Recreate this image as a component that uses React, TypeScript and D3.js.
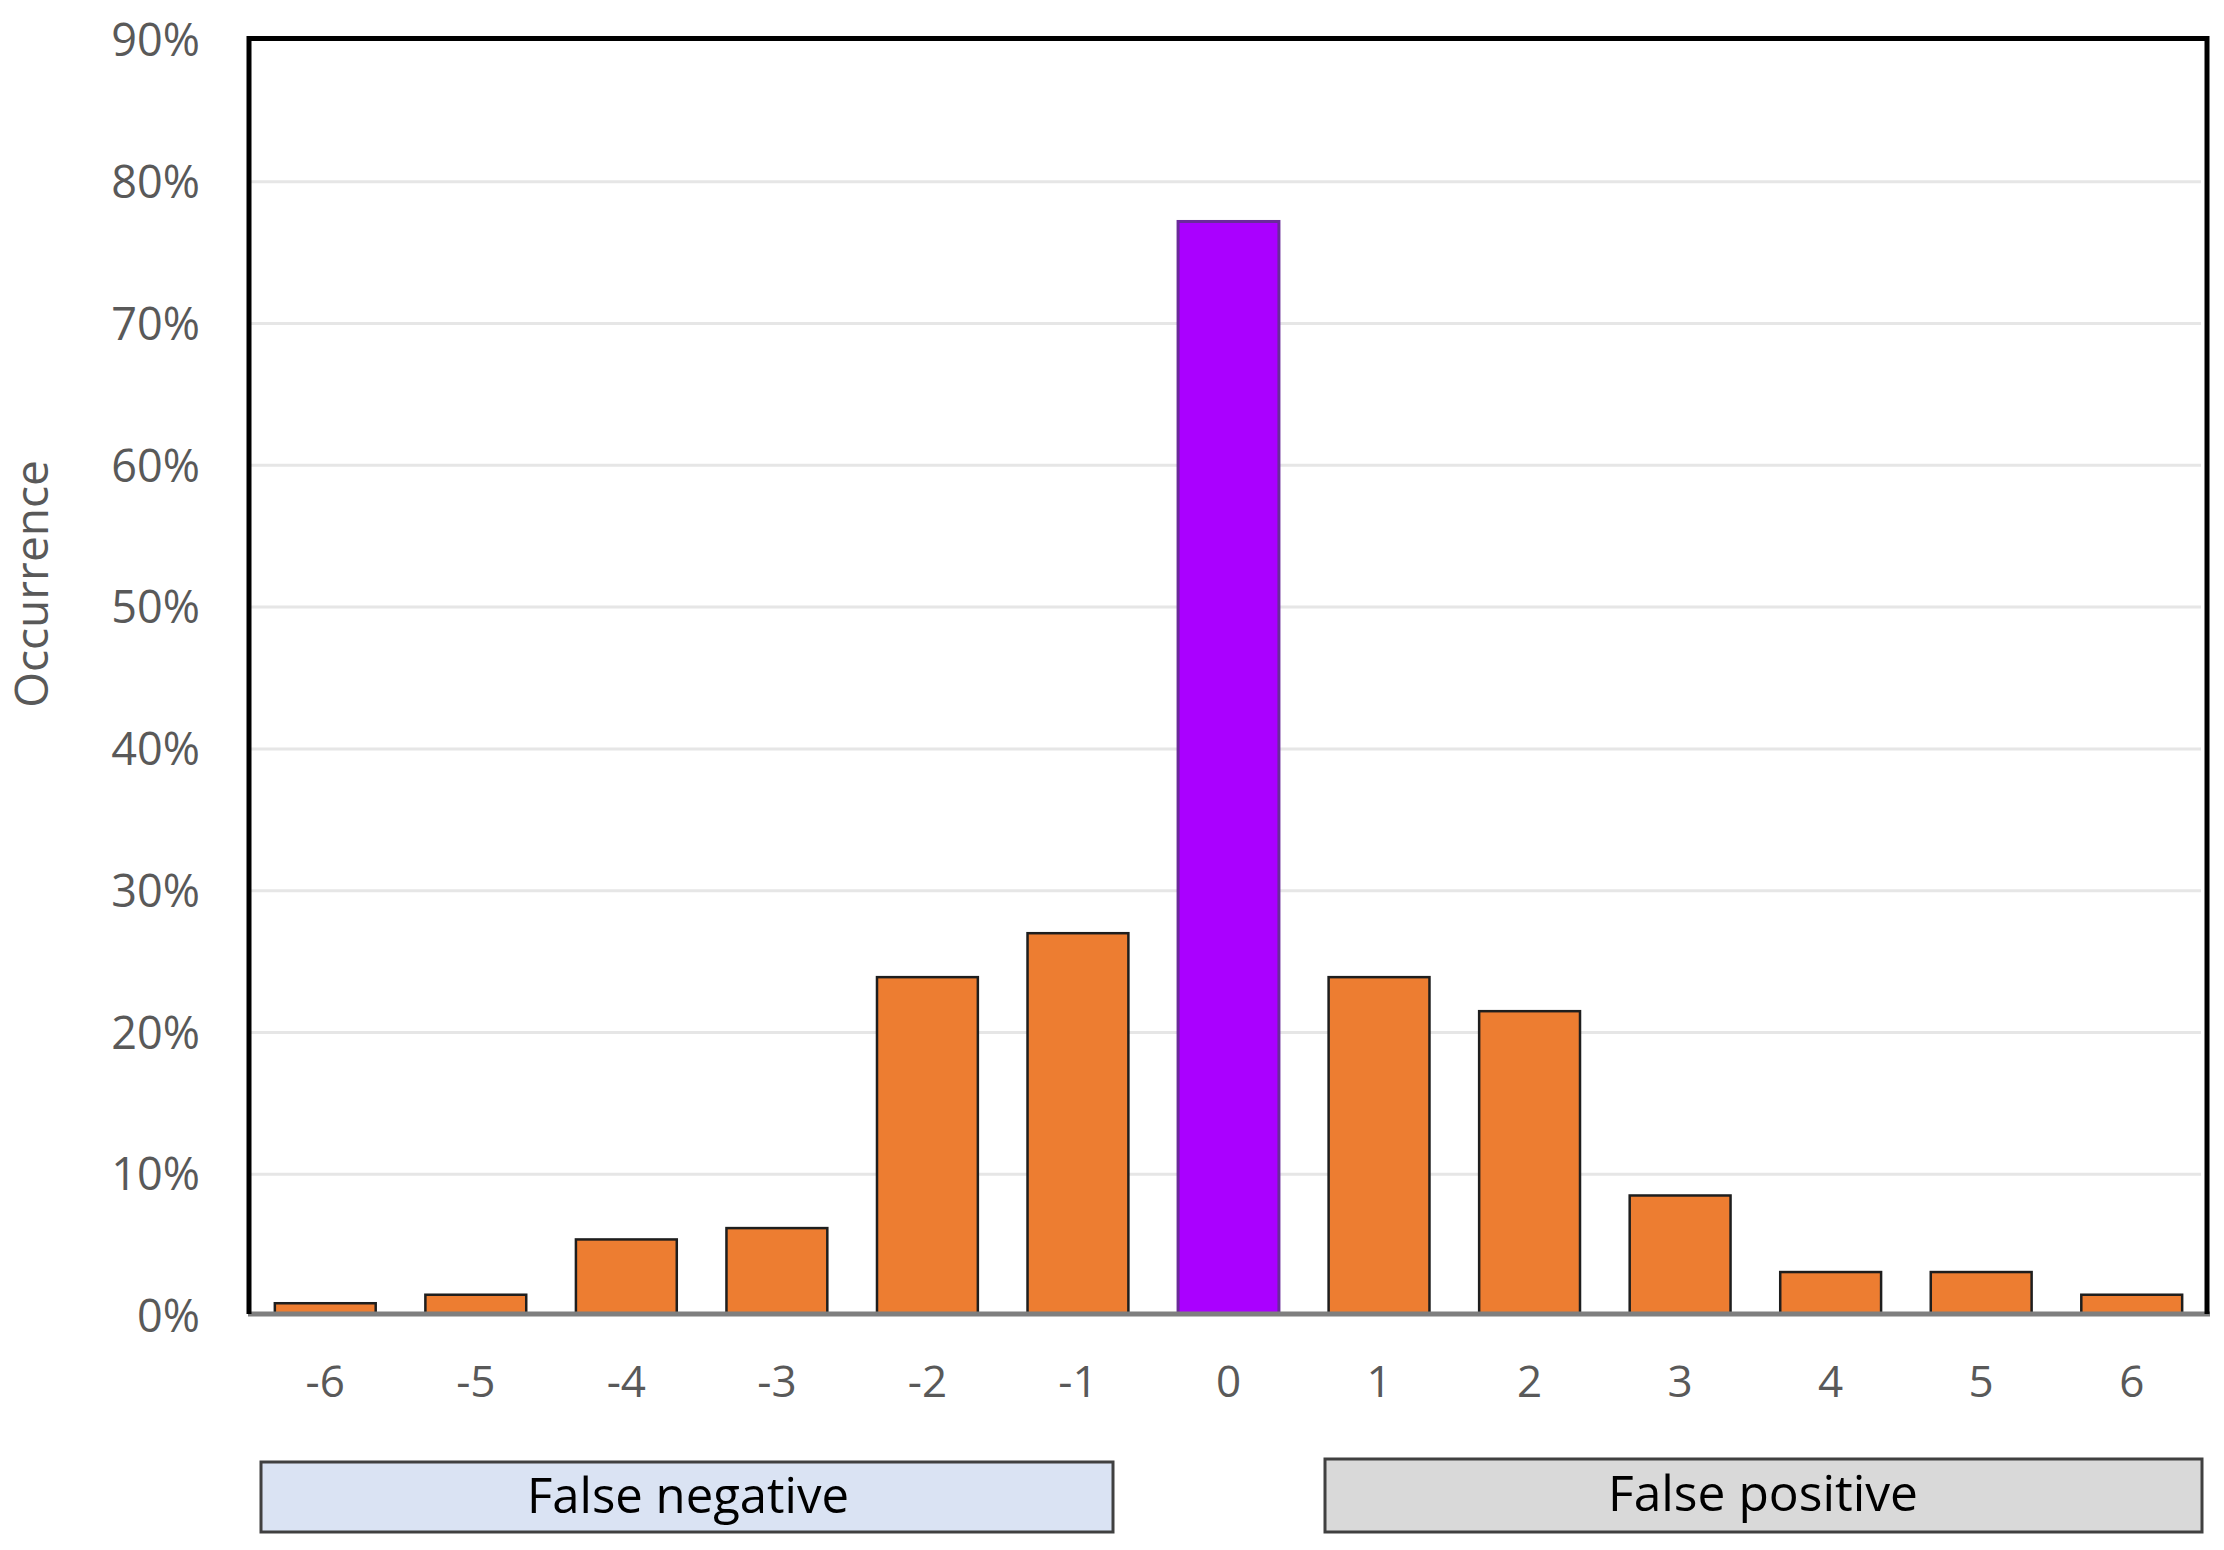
import React from "react";
import * as d3 from "d3";

const categories = ["-6", "-5", "-4", "-3", "-2", "-1", "0", "1", "2", "3", "4", "5", "6"];
const occurrence = [0.9, 1.5, 5.4, 6.2, 23.9, 27.0, 77.2, 23.9, 21.5, 8.5, 3.1, 3.1, 1.5];
const yTicks = [0, 10, 20, 30, 40, 50, 60, 70, 80, 90];
const groupLabels = ["False negative", "False positive"];

const W = 2224;
const H = 1550;
const left = 250;
const right = 2207;
const top = 40;
const bottom = 1316;

export default function App() {
  const x = d3.scaleBand<string>().domain(categories).range([left, right]).paddingInner(0.33).paddingOuter(0.165);
  const y = d3.scaleLinear().domain([0, 90]).range([bottom, top]);
  const font = "'Open Sans', 'Noto Sans', sans-serif";

  return (
    <svg width={W} height={H} style={{ position: "absolute", left: 0, top: 0, background: "#fff" }}>
      <rect x={0} y={0} width={W} height={H} fill="#fff" />
      {/* gridlines */}
      {yTicks.filter((t) => t > 0 && t < 90).map((t) => (
        <line key={"g" + t} x1={left} x2={right - 6} y1={y(t)} y2={y(t)} stroke="#e6e6e6" strokeWidth={3} />
      ))}
      {/* y tick labels */}
      {yTicks.map((t) => (
        <text key={"t" + t} x={200} y={y(t)} dy="0.36em" textAnchor="end" fontFamily={font} fontSize={45} fill="#595959">
          {t + "%"}
        </text>
      ))}
      {/* bars */}
      {categories.map((c, i) => {
        const isZero = c === "0";
        return (
          <rect
            key={"b" + c}
            x={x(c)!}
            y={y(occurrence[i])}
            width={x.bandwidth()}
            height={y(0) - y(occurrence[i]) - 2}
            fill={isZero ? "#aa00ff" : "#ed7d31"}
            stroke={isZero ? "#6a2a9a" : "#1e1e1e"}
            strokeWidth={isZero ? 3 : 2.5}
          />
        );
      })}
      {/* bottom axis */}
      <line x1={left - 2} x2={right + 3} y1={1314} y2={1314} stroke="#7f7f7f" strokeWidth={5} />
      {/* frame */}
      <path
        d={`M${left - 1},${1314} L${left - 1},${top - 1.5} L${right},${top - 1.5} L${right},${1314}`}
        fill="none"
        stroke="#000"
        strokeWidth={5}
      />
      {/* x tick labels */}
      {categories.map((c) => (
        <text key={"x" + c} x={x(c)! + x.bandwidth() / 2} y={1397} textAnchor="middle" fontFamily={font} fontSize={44} fill="#595959">
          {c}
        </text>
      ))}
      {/* y title */}
      <text
        transform={`translate(31,584) rotate(-90)`}
        dy="0.36em"
        textAnchor="middle"
        fontFamily={font}
        fontSize={46}
        fill="#595959"
      >
        Occurrence
      </text>
      {/* group boxes */}
      <rect x={261} y={1462} width={852} height={70} fill="#dae3f3" stroke="#404040" strokeWidth={3} />
      <text x={688} y={1513} textAnchor="middle" fontFamily={font} fontSize={49} fill="#000" textLength={322} lengthAdjust="spacingAndGlyphs">
        {groupLabels[0]}
      </text>
      <rect x={1325} y={1459} width={877} height={73} fill="#d9d9d9" stroke="#404040" strokeWidth={3} />
      <text x={1763} y={1511} textAnchor="middle" fontFamily={font} fontSize={49} fill="#000" textLength={310} lengthAdjust="spacingAndGlyphs">
        {groupLabels[1]}
      </text>
    </svg>
  );
}
